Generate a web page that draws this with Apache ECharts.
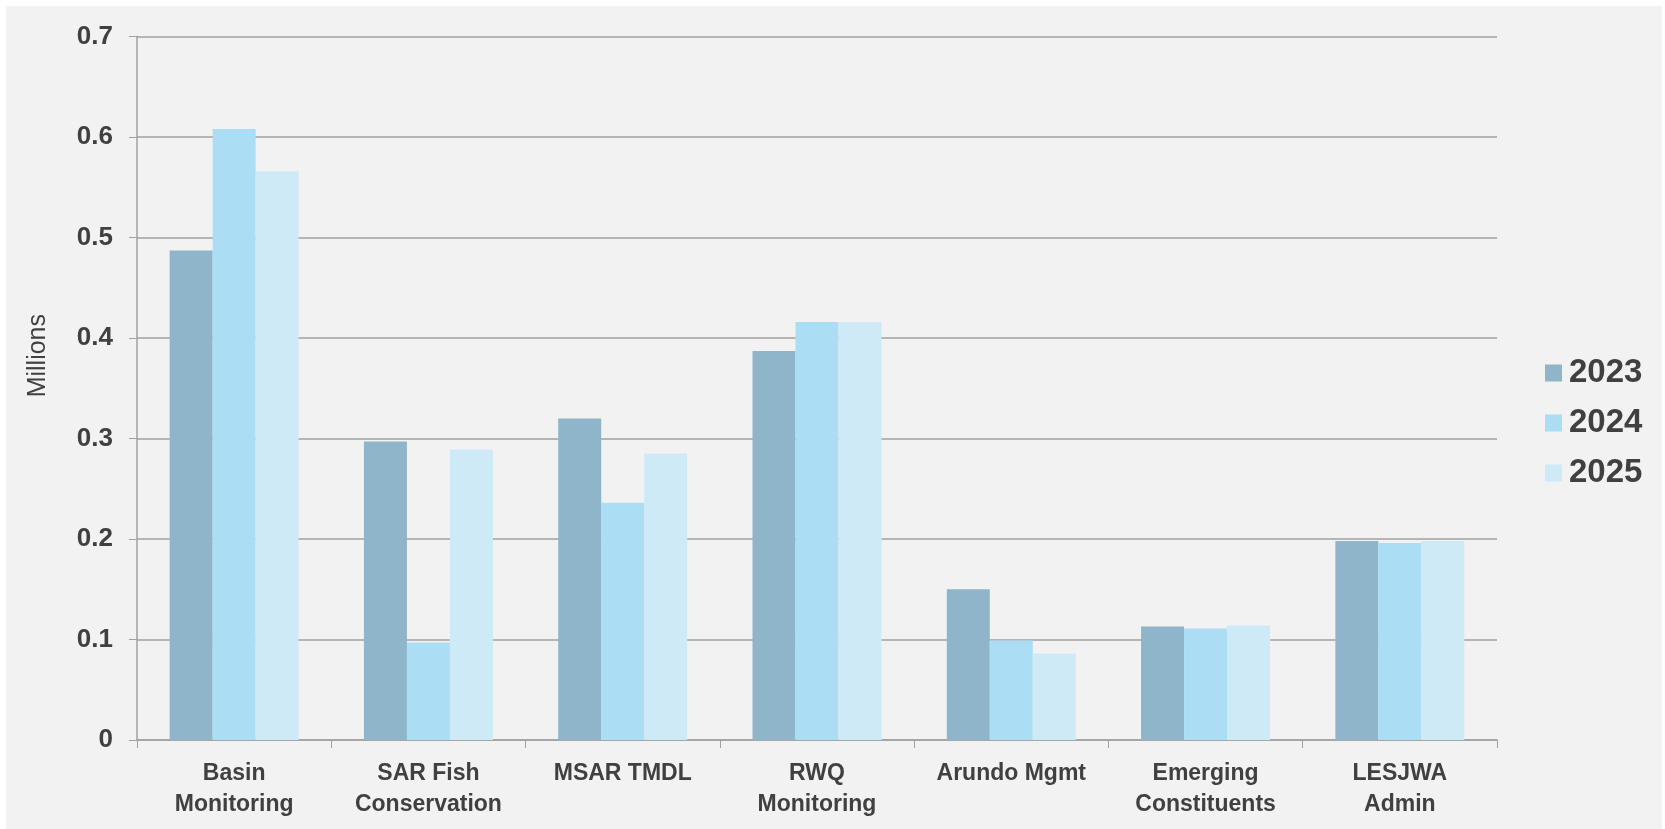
<!DOCTYPE html>
<html>
<head>
<meta charset="utf-8">
<script src="https://cdn.jsdelivr.net/npm/echarts@6/dist/echarts.min.js"></script>
<style>
    body { margin: 0; background: #ffffff; }
    #chart { position: absolute; left: 6px; top: 6px; width: 1656px; height: 823px; background: #f2f2f2; }
</style>
</head>
<body>
<div id="chart"></div>
<script>
    const categories = ['Basin\nMonitoring', 'SAR Fish\nConservation', 'MSAR TMDL', 'RWQ\nMonitoring', 'Arundo Mgmt', 'Emerging\nConstituents', 'LESJWA\nAdmin']
    const years = ['2023', '2024', '2025']
    const values2023 = [0.487, 0.297, 0.320, 0.387, 0.150, 0.113, 0.198]
    const values2024 = [0.608, 0.097, 0.236, 0.416, 0.099, 0.111, 0.196]
    const values2025 = [0.566, 0.289, 0.285, 0.416, 0.086, 0.114, 0.198]
    const yTicks = ['0', '0.1', '0.2', '0.3', '0.4', '0.5', '0.6', '0.7']
    const colors = ['#8eb5c9', '#abdef4', '#ceeaf7']

    let myChart = echarts.init(document.getElementById('chart'))
    const font = 'Liberation Sans, Arial, sans-serif'
    const seriesData = [values2023, values2024, values2025]
    let showData = []
    for (let i = 0; i < years.length; i++) {
        showData.push({
            name: years[i], type: 'bar', data: seriesData[i],
            barGap: '0%', barCategoryGap: '33.6%',
            itemStyle: { color: colors[i] }
        })
    }
    let option = {
        animation: false,
        textStyle: { fontFamily: font },
        grid: { left: 131, top: 30.5, right: 165, bottom: 89 },
        legend: {
            orient: 'vertical', left: 1534, top: 345,
            itemWidth: 17, itemHeight: 17, itemGap: 16,
            icon: 'rect',
            textStyle: { fontSize: 33, fontWeight: 'bold', color: '#404040', lineHeight: 34, fontFamily: font, padding: [0, 0, 0, 2] },
            data: years
        },
        graphic: [{
            type: 'text', left: 20, top: 308, rotation: Math.PI / 2,
            style: { text: 'Millions', fontSize: 25, fill: '#404040', fontFamily: font }
        }],
        xAxis: {
            type: 'category', data: categories,
            axisLine: { lineStyle: { color: '#a0a0a0', width: 1.5 } },
            axisTick: { show: true, length: 8, lineStyle: { color: '#a0a0a0' } },
            axisLabel: { fontSize: 23, fontWeight: 'bold', color: '#404040', lineHeight: 31, margin: 18, interval: 0, fontFamily: font }
        },
        yAxis: {
            type: 'value', min: 0, max: 0.7, interval: 0.1,
            axisLine: { show: true, lineStyle: { color: '#a0a0a0', width: 1.5 } },
            axisTick: { show: true, length: 8, lineStyle: { color: '#a0a0a0' } },
            splitLine: { lineStyle: { color: '#a0a0a0', width: 1.5 } },
            axisLabel: {
                fontSize: 26, fontWeight: 'bold', color: '#404040', margin: 24, fontFamily: font,
                formatter: function (v) { return yTicks[Math.round(v * 10)] }
            }
        },
        series: showData
    }
    myChart.setOption(option, true)
</script>
</body>
</html>
